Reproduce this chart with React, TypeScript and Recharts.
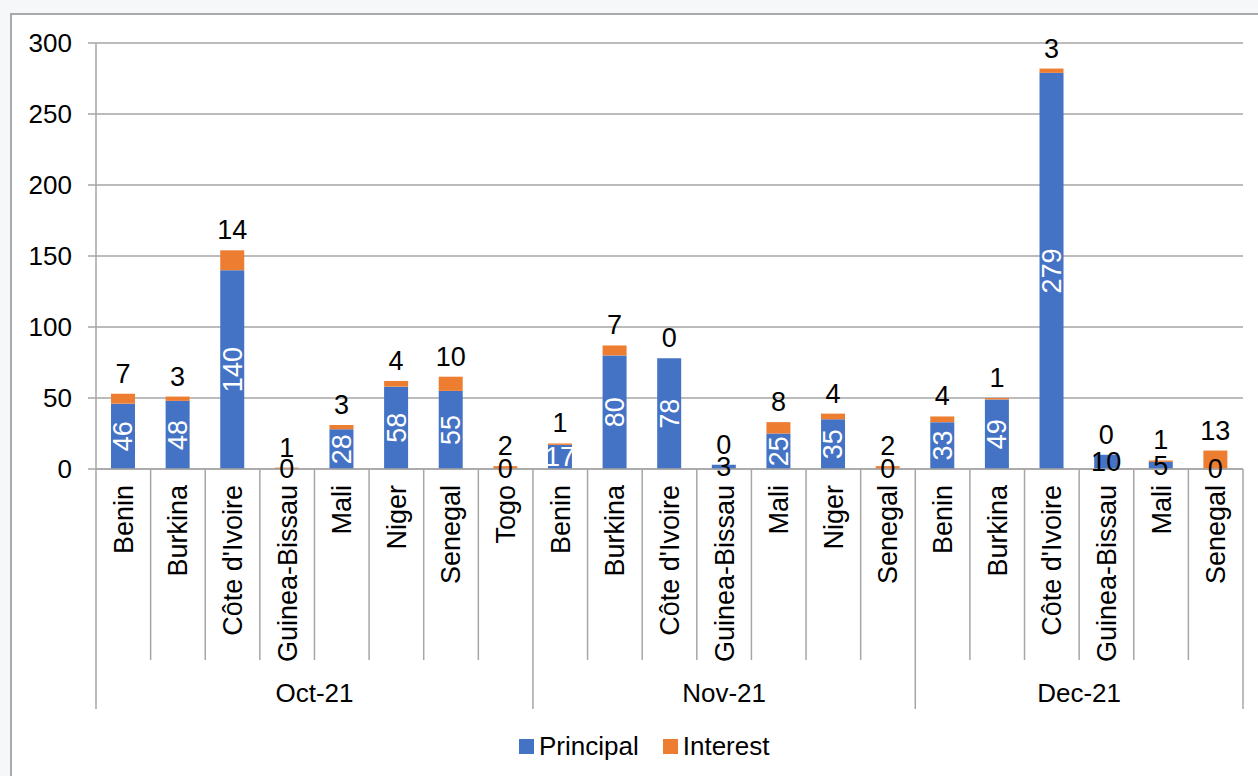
import React from 'react';
import { BarChart, Bar, XAxis, YAxis, CartesianGrid, LabelList } from 'recharts';

const months = ['Oct-21', 'Nov-21', 'Dec-21'];
const countries = [
  'Benin', 'Burkina', "Côte d'Ivoire", 'Guinea-Bissau', 'Mali', 'Niger', 'Senegal', 'Togo',
  'Benin', 'Burkina', "Côte d'Ivoire", 'Guinea-Bissau', 'Mali', 'Niger', 'Senegal',
  'Benin', 'Burkina', "Côte d'Ivoire", 'Guinea-Bissau', 'Mali', 'Senegal',
];
const monthOf = [0, 0, 0, 0, 0, 0, 0, 0, 1, 1, 1, 1, 1, 1, 1, 2, 2, 2, 2, 2, 2];
const principal = [46, 48, 140, 0, 28, 58, 55, 0, 17, 80, 78, 3, 25, 35, 0, 33, 49, 279, 10, 5, 0];
const interest = [7, 3, 14, 1, 3, 4, 10, 2, 1, 7, 0, 0, 8, 4, 2, 4, 1, 3, 0, 1, 13];
const yTicks = [0, 50, 100, 150, 200, 250, 300];

const data = countries.map((c, i) => ({
  key: String(i),
  country: c,
  month: months[monthOf[i]],
  principal: principal[i],
  interest: interest[i],
}));

const FONT = '"Liberation Sans", Arial, sans-serif';
const BLUE = '#4472C4';
const ORANGE = '#ED7D31';
const GRID = '#a6a6a6';

const CategoryTick = (props: any) => {
  const { payload } = props;
  const y0 = props.y;
  const i = props.index ?? payload.index;
  const half = payload.offset;
  const cx = payload.coordinate;
  const left = cx - half;
  const right = cx + half;
  const firstOfGroup = i === 0 || monthOf[i] !== monthOf[i - 1];
  const last = i === countries.length - 1;
  let groupLabel = null;
  if (firstOfGroup) {
    const n = monthOf.filter((m) => m === monthOf[i]).length;
    const gx = left + n * half;
    groupLabel = (
      <text x={gx} y={y0 + 224} dy="0.35em" textAnchor="middle" fontSize={26} fontFamily={FONT} fill="#000">
        {months[monthOf[i]]}
      </text>
    );
  }
  const ly = y0 + 16;
  return (
    <g>
      <line x1={left} x2={left} y1={y0} y2={y0 + (firstOfGroup ? 240 : 191)} stroke={GRID} strokeWidth={1.5} />
      {last && <line x1={right} x2={right} y1={y0} y2={y0 + 240} stroke={GRID} strokeWidth={1.5} />}
      <text
        x={cx}
        y={ly}
        dy="0.35em"
        textAnchor="end"
        transform={`rotate(-90 ${cx} ${ly})`}
        fontSize={27}
        fontFamily={FONT}
        fill="#000"
      >
        {countries[i]}
      </text>
      {groupLabel}
    </g>
  );
};

const PrincipalLabel = (props: any) => {
  const { x, y, width, height, value } = props;
  const cx = Number(x) + Number(width) / 2;
  const cy = Number(y) + Number(height) / 2;
  if (value >= 25) {
    return (
      <text x={cx} y={cy} dy="0.35em" textAnchor="middle" transform={`rotate(-90 ${cx} ${cy})`} fontSize={27} fontFamily={FONT} fill="#fff">
        {String(value)}
      </text>
    );
  }
  return (
    <text x={cx} y={cy} dy="0.35em" textAnchor="middle" fontSize={27} fontFamily={FONT} fill={value >= 15 ? '#fff' : '#000'}>
      {String(value)}
    </text>
  );
};

const InterestLabel = (props: any) => {
  const { x, y, width, value } = props;
  const cx = Number(x) + Number(width) / 2;
  return (
    <text x={cx} y={Number(y) - 11} textAnchor="middle" fontSize={27} fontFamily={FONT} fill="#000">
      {String(value)}
    </text>
  );
};

export default function App() {
  return (
    <div style={{ position: 'absolute', left: 0, top: 0, width: 1258, height: 776, background: '#f5f7f9', overflow: 'hidden', fontFamily: FONT }}>
      <div style={{ position: 'absolute', left: 10, top: 13, width: 1300, height: 800, border: '2px solid #a9a9a9', background: '#fff' }} />
      <div style={{ position: 'absolute', left: 0, top: 0 }}>
        <BarChart width={1258} height={776} data={data} margin={{ top: 43, right: 15, left: 0, bottom: 0 }} barSize={24}>
          <CartesianGrid vertical={false} stroke={GRID} strokeWidth={1.5} />
          <XAxis
            dataKey="key"
            height={307}
            interval={0}
            tickLine={false}
            tickSize={0}
            tickMargin={0}
            axisLine={{ stroke: GRID, strokeWidth: 1.5 }}
            tick={<CategoryTick />}
          />
          <YAxis
            width={96}
            domain={[0, 300]}
            ticks={yTicks}
            interval={0}
            tickSize={8}
            tickMargin={16}
            tickLine={{ stroke: GRID, strokeWidth: 1.5 }}
            axisLine={{ stroke: GRID, strokeWidth: 1.5 }}
            tick={{ fontSize: 26, fill: '#000', fontFamily: FONT }}
          />
          <Bar dataKey="principal" name="Principal" stackId="a" fill={BLUE} minPointSize={0.01} isAnimationActive={false}>
            <LabelList dataKey="principal" content={PrincipalLabel} />
          </Bar>
          <Bar dataKey="interest" name="Interest" stackId="a" fill={ORANGE} minPointSize={0.01} isAnimationActive={false}>
            <LabelList dataKey="interest" content={InterestLabel} />
          </Bar>
        </BarChart>
      </div>
      <div style={{ position: 'absolute', left: 519, top: 728, height: 36, display: 'flex', alignItems: 'center', fontSize: 26, color: '#000', whiteSpace: 'nowrap' }}>
        <span style={{ display: 'inline-block', width: 15, height: 15, background: BLUE, marginRight: 5 }} />
        <span>Principal</span>
        <span style={{ display: 'inline-block', width: 15, height: 15, background: ORANGE, marginLeft: 24, marginRight: 5 }} />
        <span>Interest</span>
      </div>
    </div>
  );
}
